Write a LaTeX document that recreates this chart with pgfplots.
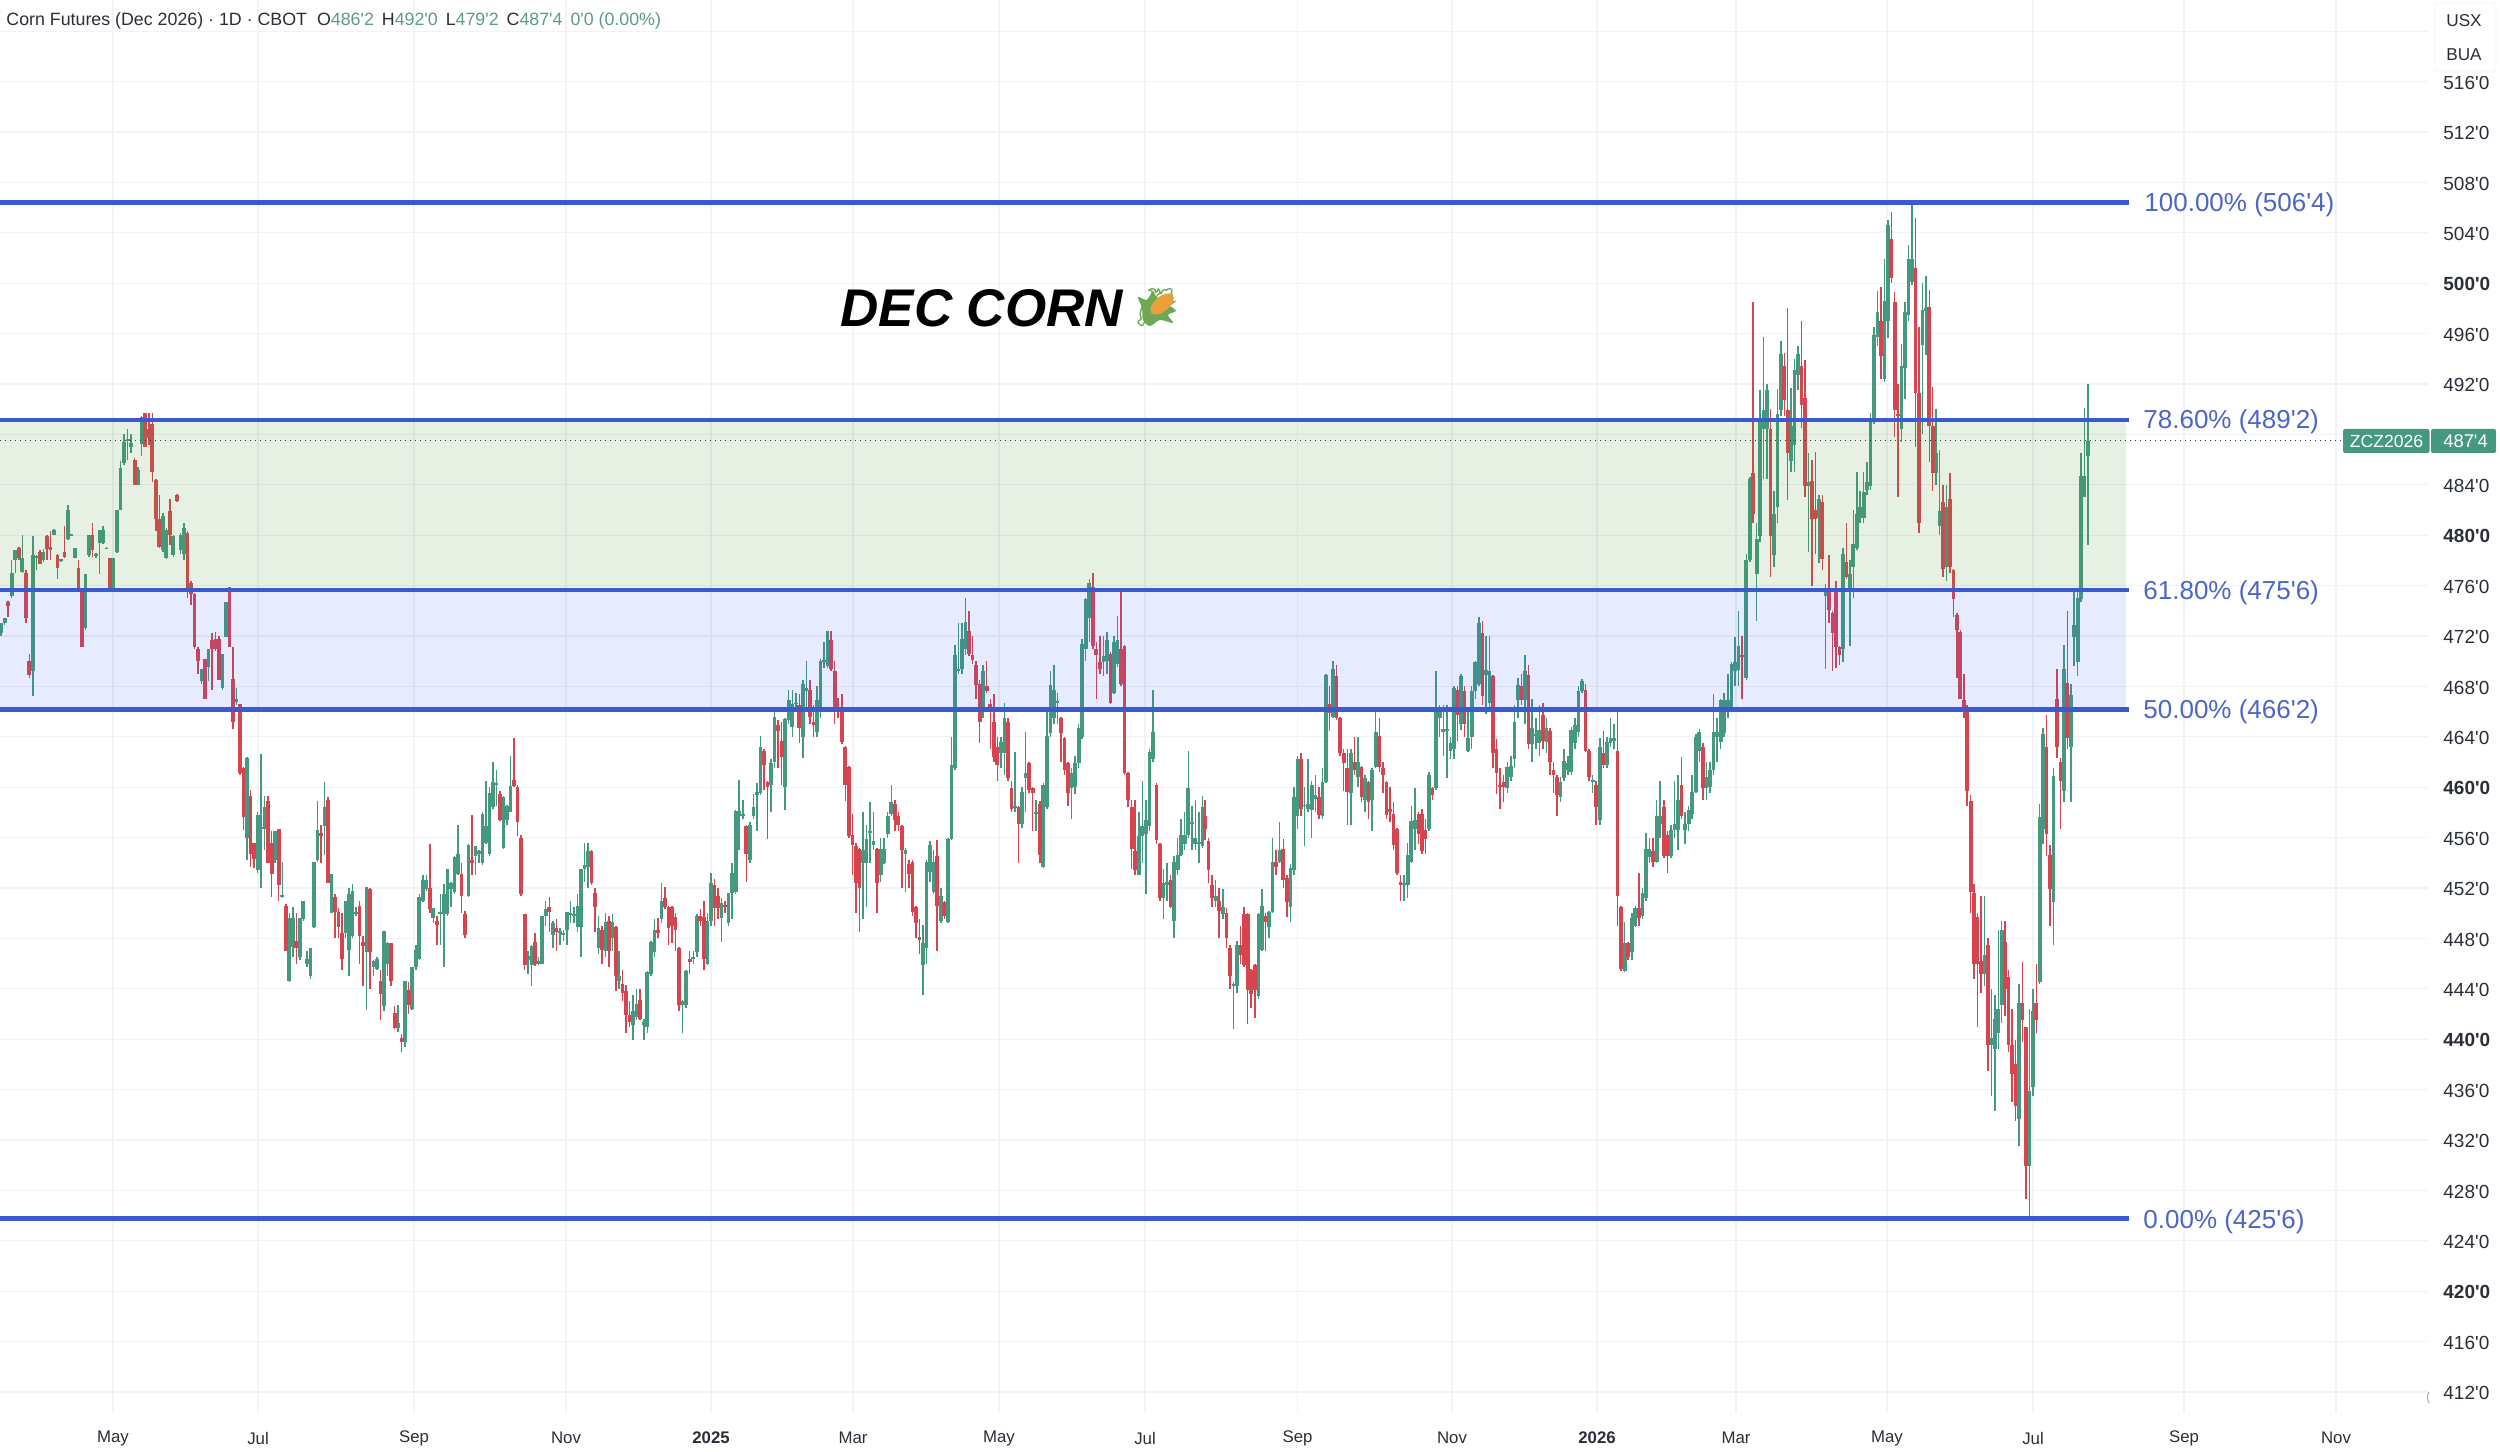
\documentclass[border=0pt]{standalone}
\usepackage{fontspec}
\setmainfont{Liberation Sans}[Ligatures=TeXOff]
\newfontfamily\emojifont{Noto Emoji}
\usepackage{pgfplots}
\usepackage{pgfplotstable}
\pgfplotsset{compat=1.18}
\definecolor{cup}{HTML}{459980}
\definecolor{cdn}{HTML}{D6454F}
\definecolor{fib}{HTML}{3A5BD0}
\definecolor{fibt}{HTML}{4B66C5}
\definecolor{gridc}{HTML}{F2F3F5}
\definecolor{txt}{HTML}{2A2E39}
\definecolor{hdr}{HTML}{5A9C86}
\definecolor{husk}{HTML}{6FA854}
\definecolor{cob}{HTML}{E9A23B}

\pgfplotstableread{
o h l c
472.2 473 472 473
473 473.4 472.9 473.4
474.7 474.8 473.5 474.4
475.2 478 475 477
478 478.8 477 478.8
479 479.1 478 478.2
477.1 480 477 478.2
477 477.2 473 473.4
470 470.6 468.7 468.9
469.2 479.9 467.2 478.4
478.2 478.4 477.2 478.3
478.7 478.8 477.7 477.7
478 478.9 477.9 478.7
479.9 480 478 478.9
479.1 480.3 478 478.8
480 480.5 480 480.4
478.4 478.5 476.5 477.4
478 478.1 477.9 478.05
478.7 480.7 478.2 478.3
479.7 482.4 479.6 482
480 480.1 479.9 480.1
478.2 479 478.2 479
477.4 478 475.6 475.8
475.6 475.8 471.1 471.1
472.6 476.9 472.5 476.9
478.4 480 478.3 480
480 481 478.3 478.8
478.4 478.6 478.2 478.5
479.4 480.4 476.9 480.4
479.4 480.7 479.3 480.4
478.9 479.1 478.9 479
478.2 478.2 475.6 475.8
475.8 478.2 475.7 478.2
478.7 482 478.6 482
482 485.9 482 485.3
485.7 488 485.6 487.4
487.5 488.4 486 487.6
487 488 486.5 487.3
486 486.1 484 484
484 485.4 484 485.2
487.2 489.5 486.3 489.4
489.7 489.7 487 487
488.4 489.7 487.2 487.7
488.8 489.7 484.2 485
484.4 484.5 480.3 481.3
481.3 483.2 479 479.1
478.8 481.8 478.7 481.5
478.2 480.6 478.1 480.4
481.9 482.9 479.2 480
478.4 480 478.3 479.9
483.2 483.3 482.6 482.7
478.8 480.2 478.5 480
478.5 481 478 480.6
480.2 480.3 475 475.6
476.2 476.4 474.5 475.3
475.3 475.4 471 471.1
471 471.1 469 470
468.4 469.3 468.2 469.4
470.2 470.2 467 467
469.5 471 468.4 471
471.7 472.2 467.7 471
471.8 472.3 470.8 471
471.8 472 468.5 468.5
467.9 470.6 467.7 470.6
471.9 474.7 471.9 474.7
475.9 475.9 471.1 471.1
468.6 471.1 464.6 465.2
466.8 467.9 466.5 467
466.6 466.6 461 461.1
461.5 461.6 456.6 457.6
456 462.4 454.2 462.3
459.3 459.8 453.7 454.7
455.6 455.6 453.6 454.3
453.4 458 453.2 457.8
456.7 462.6 452 456.8
456.7 459.3 455 458.4
458.9 459.3 454 454
455.6 456.5 451.3 453.1
454.2 456.5 454 456.5
456.7 456.7 451 452.2
451.3 454.1 451.2 451.4
450.6 450.7 447 447
444.6 450 444.5 449.6
447.3 450.5 446.5 449.6
447.8 450 446 447.2
446.5 449.6 446.3 449.6
449.5 451 449.4 451
446 447 445.7 446.4
445 447.2 444.8 447.2
448.9 454.1 448.8 454.1
454.2 458.9 454.1 456.6
456.4 457 454 456.1
456.9 460.4 454.6 458.4
459 459.2 452.4 452.4
450 453 450 453.1
451.3 451.5 448 450.1
450.1 450.4 448 448.9
448.4 450 445.5 446.4
448.4 451 448 451
447.1 452 445 451.5
448.2 452.3 448 451.8
450 450.5 449.8 450.05
450.6 451 446 448.2
447.7 448.2 444.2 447.4
446.9 452.1 442.3 452.1
451.9 452 444 446.9
445.7 446.3 445 446.2
445.6 446.5 445.5 446.4
444.6 445.5 441.5 443.6
442.6 448.6 442.2 448.6
446 447.7 445 447.6
447.6 447.6 444.2 444.6
442.1 442.6 440.8 440.9
440.9 442.7 440.6 441.3
440.1 440.4 439 439.8
439.8 444.6 439.4 444.6
443.9 444.5 442 442.7
442.4 445.7 442.3 445.7
445.7 447.5 445.5 447.1
446.4 451.5 446.3 451.3
451 453 450.9 452.6
451.9 453 451.8 452.6
452 455.5 450 450.3
449.6 450.4 449.2 450.4
449.4 449.8 447.5 449.1
449.9 451.5 447.5 450.1
449.9 452.3 445.7 451.5
449.9 453.5 449.8 453.5
451.9 452.5 450.5 452.4
451.7 454.5 451.5 454.5
453.1 457 453 454.7
453.1 454 450 451.4
449.9 450.2 448 448.3
451.4 455.5 451.3 455.4
454.2 457.8 453 454
454.5 455.3 453 455.3
454.7 455 454 454.9
454 458 453.8 457.9
455.6 460.5 455.5 456.9
454.7 460 454.5 459.5
458.4 462 458.3 460.4
460.2 461.4 458.5 460.3
459.5 459.7 457.3 457.4
455.2 459.3 455.1 459.2
457.4 458.6 457 458.5
458 462.5 458 460.1
460.6 463.9 460 460.1
460 460.2 456.1 457.2
456 456.2 451.4 451.5
449.9 449.9 445.5 445.9
446.3 447 445.2 446.6
445.9 447.5 444.2 447.4
447.7 448.4 445.8 446
446 446.5 445.9 446.2
446 449.8 446 449.8
449.8 451 449 450.3
450.5 451.3 448.5 450.1
448.3 449.4 447.2 449.2
448.8 449.5 447 448.5
448.5 448.8 447.5 448.55
448.3 448.7 447.8 448.4
448.7 450.1 447.5 450.1
449.9 451 449.2 450
449.8 450.5 449.2 449.9
448.9 451.5 448.5 450.6
448.9 453.5 446.5 453.5
453.5 455.6 452.5 453.8
453.7 455.6 452 454.9
454.9 455 452.2 452.4
451.6 452 448.5 450.5
447.2 449.8 446.8 448.8
448.7 449 446 447.1
447 450 446.5 449.3
449.4 449.8 445.7 447
448 449.9 447 449.3
448.9 449 443.8 445
}\tA

\pgfplotstableread{
o h l c
444.6 447 444 445
444.4 445.5 443 443.7
443.8 444.3 440.5 441.9
441.9 443 441 441.4
441.1 443.5 439.9 442.2
441.8 444 441.5 442.8
443.1 444 441.5 441.6
441.1 441.6 439.9 441.4
441 445.4 440.5 445.3
445.2 447.8 445 447.7
446.9 449.5 446.5 448.7
448.7 449.6 448 448.4
449.5 452.4 449.2 451
451.2 452.1 450.3 450.5
450.5 450.6 447.5 448.8
450.5 450.6 447.6 449
449.7 450 447 448.7
447.2 447.3 442.2 442.7
442.7 443.1 440.5 443
442.7 445.5 442.5 445.4
446.4 447 445.2 446.1
446.4 447 446 446.5
446.9 449.9 446.5 449.8
449.8 450.3 449 449.4
449.7 451 445.5 446.4
446 450 445.9 449.4
449.4 453.2 449 452.4
452.2 452.7 449 450.4
451.4 452 449.5 450.4
449.6 451.2 447.7 450.8
450.6 451 450 450.5
449.2 451.6 449 451.6
451.6 454 449.5 453.2
451.7 458.2 451.5 458.1
457.7 460.6 455 458.1
457.7 459 457.5 457.9
456.9 457 452.5 454.7
454.2 457.2 454 457
457.7 459.5 457.5 458.4
459.4 460.3 456.5 459.6
459.5 464.1 459.4 463.2
462.9 463 459.8 461.8
460.4 460.5 455.9 460
460.2 462.2 458 461.9
462 466 461.5 465.6
464.9 465.3 461.5 464.5
463.7 465.2 460.2 462.4
460 465.5 458.2 465.4
465.3 467.7 465 466.9
464.8 467.7 464 466.6
466.6 467.5 466 466.7
466.5 467.4 463.5 464.7
464 468.5 462.3 468.2
467.6 470 466 467.9
467.7 468.5 465 465.6
465.2 466.5 464 464.9
464.4 468 464 466.9
466 470.2 465.5 470
470 471.5 469.5 470.1
469.6 472.4 469.5 472.4
471.7 472.4 469.2 469.4
469.2 470 465 466.4
466.4 467.1 465.5 466
466.4 467.4 463.4 463.6
463.2 463.3 458.9 460.2
461.6 461.7 456 456.1
456.2 457.9 453 455.4
455.3 455.6 450 452.4
455.1 455.2 448.5 452
454 458 449.5 455
454 457 450.5 455.9
456.4 458.8 454 456.5
455.4 458 455 455.7
455.1 455.2 450 452.4
453 456 452.5 455.1
454 456 453.9 455.1
456.3 458 456 457.7
457.9 460.2 457.7 458.8
458.7 459 456.5 457.4
457.7 458 456.5 457
456.9 457 452 455
454.7 455.2 451.7 455
453.9 454.2 452 453.1
454.1 454.2 449.8 450.1
450.5 450.6 448 449.2
448.1 449.5 446.8 447.9
445.9 449.1 443.5 447.6
447.2 454.2 446 454.1
453.3 455.7 452.5 455.4
451.7 455 451.5 454.1
454.5 455.8 447 450.6
449.4 452 449.2 451.4
450.9 451 449.5 449.8
449.3 456 449.2 455.9
455.9 464 455.8 461.8
461.5 471.3 461.4 470.5
469.2 473 469 469.4
469.4 473 469 471.8
471 475 470.5 473.1
472.4 474 470.4 470.6
470.5 472 469.8 470.1
469.7 470 467 468.1
468.2 468.5 463.5 465.2
466.1 469.7 465.5 469.2
468 470 467.5 467.6
466.6 467 463 466.3
465.2 467.4 462 462.4
463.2 464 460.5 461.8
462.7 464 461.5 463.6
462.7 466.7 461 465.5
465.2 465.5 460.5 460.7
459.9 460.5 458 458.3
458.4 462.8 458 458.5
458.4 458.5 454 457.1
457.1 460 456.8 459.6
460.7 464.4 458 461.1
461.9 462 459.5 459.8
459.9 460 456.5 459.5
457.9 459 456.5 458
458.7 458.9 454 454.6
453.7 460.3 453.6 460.2
458.4 466 458.3 464.1
464.3 469.2 464 468.1
465.5 469.7 465 467.7
466.7 467.5 465 466.8
465.5 465.6 462 464.3
463.9 464 461 461.4
461.9 462 458.5 459.5
459.9 461.5 457.5 461.1
460 462.5 459.5 461.9
461.9 465 461.5 464.7
464 471.8 463.8 471.4
471 475 470 474.9
473.4 476.5 471.5 476.2
475.9 477 471 471.2
471 471.5 467 470.5
469.9 472 469 469.4
469.9 472 468.8 470.4
470 472.3 469 471.7
470.6 470.7 466.6 466.7
467.5 472 467.4 471.5
469.8 473.6 469.5 471.7
471 475.5 468 468.2
471.2 471.3 461 461.1
461.1 461.2 458.4 459
458.4 459 453.5 455.1
454.9 459 453 453.4
453 458 453 456.1
456.1 460.5 454 456.9
456.3 459 451.5 457.4
456.9 463 456.5 462.8
462.2 467.7 462 464.4
460.2 460.3 455.5 455.8
455.5 455.6 451 451.2
451.2 453.5 449.5 452.4
452.2 454 451 452.5
452.6 453 450.4 450.5
449.4 454.5 448 454.1
453.4 456 453 454.6
454.6 457.5 454.5 456.2
455.5 458 455 456.2
456.2 462.9 456 459.9
457.1 458.5 455 457.2
455.5 459 455 456
455.5 458 454 455.6
455.3 459.3 455.2 458.4
}\tB

\pgfplotstableread{
o h l c
457.7 459 455.8 456.7
455.7 456 452.4 453.4
452.2 453 450.5 451.2
451 452.6 450.5 451.4
451 452 448 450.2
449.9 451.9 449.5 450.5
450 450.4 447.2 448
447.2 447.5 444 445
444.2 444.5 440.8 444.4
444.2 447.8 443.7 447.5
447.5 449 446 446.7
449.9 450.5 445.7 445.9
449.9 450 441.2 443.9
445.5 445.6 442.5 443.6
445.9 446 441.7 443.9
443.4 450 443.2 449.9
447.1 451.9 447 450.6
449.8 450 447 449.3
448.9 450.2 448 450.1
450.1 456 450 454.1
454.1 455 453 453.7
454.1 457.2 454 455
455.1 455.9 452 452.6
452.8 453 449.7 450.9
450.5 453.9 449.3 453.6
453.4 460 453 459.2
457.7 462.5 456.7 462.2
462.2 462.7 457.7 458.3
458.5 460 455.3 458.6
458.3 462.2 458 458.7
458.2 460.5 456 460.2
459.1 461 458 459.4
459.2 460 457.5 457.8
457.7 461.5 457.5 460.4
460.4 469 460.3 468.9
466.6 468 464.5 465.9
465.6 470 465.5 469.4
468.8 469.7 465.3 465.5
465.5 465.6 462.5 462.7
462.7 463 459.7 461.9
461.5 463 457 459.6
459.5 463 457 462.7
462 464 461 461.4
460.8 464 460 462
461.6 461.7 458.8 459.2
459 461 458 460.7
460.4 460.5 457.5 458.8
459 461.5 456.5 461.4
461.6 466 461.5 464.4
464.1 465.5 461.2 461.6
461.5 462 459.5 461
460.4 460.5 457.5 457.8
458.3 460 457.2 458
457.9 458.8 455 455.4
456.7 456.8 453 453.2
452.5 453 451 452.2
452.3 453 451 452.4
452.2 455.6 451.2 454.6
454.1 458.5 454 457.3
456.7 459.9 455 457.4
457.9 458 455.5 456.3
457.9 458.3 454.7 454.9
456.6 457.5 454.7 455.9
456.7 461.2 456.5 461
459.9 460 459 459.4
459.9 469.2 459.8 466.1
465.5 466.5 464 466.3
464.4 466.5 462.5 464.6
464.5 466.5 460.7 464.55
462.9 464 462.2 463.5
463 468 462.2 467.9
467.7 468 463.7 465.7
465 469 464.5 468.8
467.6 468 464 465
462.9 466 462.8 463.9
464 468 463 467.6
467.6 470 467 469.9
468.2 473.5 468 473
472.2 473.2 466.5 467.2
468.9 472 465.8 469.3
466.7 472 466 469.2
468.8 468.9 461.5 462.7
463 463.8 459.5 461.1
460.2 461.5 458.3 460
460.4 461 458.8 460
459.9 462 459.5 461.6
460.8 462.5 460.5 461.7
462.2 466.5 461.5 465.2
466.9 468.7 465.5 468.1
468 469 466.5 466.9
466.9 470.5 465 469.2
468.9 469.7 463 463.4
463.4 467 462 464.7
464.1 465.5 463 464.2
463.5 466.5 462.5 464.5
465.7 466.7 463 463.7
463.6 465.5 462.7 464.7
464.5 464.7 461 462
461.4 462 459.5 461
460.8 461 457.7 459.4
459.2 460.8 458.8 460.4
460.7 463 460.5 462.1
461.4 462.5 461 461.9
461.2 464.8 461 464.5
463.5 465.5 463 464.9
464.4 468 464 467.6
467.6 468.6 467.5 468.4
467.7 468.2 462.8 462.9
462.9 463 460.5 460.8
460.4 461 459.5 460.6
460.2 460.5 457 458.4
457.4 463.9 457 463.2
462.7 464.5 461.5 461.8
461.8 464 461.5 463.6
463.5 465.5 463.2 463.9
463.7 465 463 463.9
462.9 466.1 449 451.4
450.5 450.6 445.4 445.6
445.4 449.3 445.3 447.6
447.6 447.7 446.3 446.5
446.9 450 446.3 449.6
449 450.6 448.9 450.4
450.4 453.2 449 449.6
449.8 452 449.5 451.6
451.2 456.4 451 455.1
454.5 456 454 455.1
454.9 456 453.7 454.1
454.1 459 454 457.7
457.1 460.5 456 457.7
458.4 459 454.4 454.5
456.2 456.5 453.2 454.5
454.5 457 454.4 456.6
456.6 460.5 456 457.1
456.6 461 455 459
460.2 462.4 457.5 457.7
456.6 458 455.5 457.1
457.1 458.5 456.5 458.2
457.9 461 457.5 459.6
459.6 464.2 459.5 464
462.9 464.6 462 464.4
463.2 463.5 459 459.9
459.9 462 459 460.8
460 462 459.5 461.4
461.4 467.4 461 464.4
464 465.5 462 464.4
463.6 467 463 466.9
464.3 467.5 464 466.9
466.1 469 465.5 466.9
466.1 469.9 466 469.8
469.2 471.9 468 469.9
469.3 474 468 471.2
470.5 472 467 470.3
}\tC

\pgfplotstableread{
o h l c
468.7 478.5 468.5 478
478 484.6 477.9 484.5
484.9 498.5 481 481.7
476.9 481 473.2 479.7
479.9 491.5 479.5 489
488.4 495.7 484.5 489.9
488.4 492 484.5 491.5
488.4 490 476.7 479.9
478.4 483.5 477.5 481.7
482.2 491.6 481 489.6
489.9 495.4 489.5 494.4
493.4 494.5 489.5 490.7
489.9 498 482.8 486.5
485.9 491.7 485 488.7
487.2 494 485 493.1
492.7 495 491.5 494.4
493.4 497 488.5 490.3
490.9 493.9 483 483.9
483.9 486.5 478.7 484.2
484.3 486 476 481.3
482 486.6 478.5 481.3
481.4 483.2 477.8 482.9
482.6 483.2 477.2 478.1
475.2 476.1 469.4 475.7
475.5 478.4 473 474.1
473.8 474 469.2 472.2
475.7 476.4 469.5 471.1
471.1 471.2 469.7 470.5
471 479 469.9 478.5
477.9 481 476.5 476.7
475.7 478 471.2 476.9
477.5 482 475 479.3
479 485 478.8 481.7
481.4 483.5 481 482.2
481.4 485 481 483.4
483.6 485.8 483.2 484.2
483.9 489.7 483.6 489.3
489.3 496.5 488.8 495.9
495.7 499.4 495 497.7
497 499.7 492.4 494.2
492.4 501.9 492.2 498.6
497 505 495.7 504.6
503.5 505.7 500 500.4
498.5 499.3 487.8 489.9
489.6 492 483 489.5
488.4 495.2 487.4 493.4
493.3 498.5 490.8 497.7
497.5 503 497 501.9
500.1 506.5 499.9 501.9
501.2 505.2 487 491.3
491.3 496.5 480.2 481
495.1 500 488 497.9
497.8 500.6 494.3 498
498.1 499.5 485.8 488.7
488.7 491.8 483.5 484.9
484.9 490 484 486.5
480.7 486.8 480 481.9
482.6 484 476.7 477.3
477.5 484 476.4 482.2
482.9 484.9 477 477.5
477.2 477.3 473.5 474.9
473.7 473.8 468.7 472.5
472.3 472.5 467 467
466.9 469 465.5 466.4
466.1 466.5 458.5 459.7
458.9 459.4 450 451.7
451.6 452.3 444.8 446
449.7 450 441 446
446.2 451.4 443.7 445.2
445.2 451.4 444.2 446.7
447.5 448 437.5 439.5
439.5 444 435.5 440.1
439.2 443.5 434.3 441.6
440.5 448.7 439.2 442.4
442.7 449.4 441.3 448.7
447.7 449.4 441.8 444
444.9 445.5 439 439.5
439.5 442.4 435 437.2
438 439.9 433.5 434.7
433.7 444.4 431.5 442.9
442.9 446.1 439.8 441.5
441 441 427.3 429.9
429.9 442.4 425.75 435.9
436.2 444 435.5 442.2
442.9 446 440.5 441.5
444.5 458.7 444.4 457.6
456.7 464.7 455.5 464.2
463.2 465.7 454.5 456.3
454.6 455.4 449 451.9
450.9 461.5 447.5 460.9
467 469.4 462.3 463.2
462 462.3 456.7 460.5
459.7 471.3 458.8 469.4
468.3 474 463 463.9
463.2 468.2 458.8 467.3
471.9 475.5 469.6 472.9
469.9 475.8 468.8 475
474.9 486.5 474.7 484.7
483 490.1 483 484.7
486.25 492 479.25 487.5
}\tD

\newcommand\candles[3]{%
  \pgfplotstablegetrowsof{#1}%
  \pgfmathsetmacro\cstep{(#3-#2)/(\pgfplotsretval-1)}%
  \addplot[draw=none,mark=none,forget plot,
    error bars/.cd,y dir=both,y explicit,error mark=none,
    error bar style={line width=0.75pt,color=cup}]
    table[x expr={#2+\coordindex*\cstep},
      y expr={\thisrow{c}>=\thisrow{o} ? (\thisrow{h}+\thisrow{l})/2 : nan},
      y error expr={(\thisrow{h}-\thisrow{l})/2}] {#1};
  \addplot[draw=none,mark=none,forget plot,
    error bars/.cd,y dir=both,y explicit,error mark=none,
    error bar style={line width=0.75pt,color=cdn}]
    table[x expr={#2+\coordindex*\cstep},
      y expr={\thisrow{c}<\thisrow{o} ? (\thisrow{h}+\thisrow{l})/2 : nan},
      y error expr={(\thisrow{h}-\thisrow{l})/2}] {#1};
  \addplot[draw=none,mark=none,forget plot,
    error bars/.cd,y dir=both,y explicit,error mark=none,
    error bar style={line width=1.85pt,color=cup}]
    table[x expr={#2+\coordindex*\cstep},
      y expr={\thisrow{c}>=\thisrow{o} ? (\thisrow{o}+\thisrow{c})/2 : nan},
      y error expr={max(abs(\thisrow{o}-\thisrow{c})/2,0.07)}] {#1};
  \addplot[draw=none,mark=none,forget plot,
    error bars/.cd,y dir=both,y explicit,error mark=none,
    error bar style={line width=1.85pt,color=cdn}]
    table[x expr={#2+\coordindex*\cstep},
      y expr={\thisrow{c}<\thisrow{o} ? (\thisrow{o}+\thisrow{c})/2 : nan},
      y error expr={max(abs(\thisrow{o}-\thisrow{c})/2,0.07)}] {#1};
}

\begin{document}
\begin{tikzpicture}
\useasboundingbox (0,0) rectangle (1250pt,725.5pt);
\begin{axis}[
  at={(0pt,19pt)},anchor=south west,scale only axis,
  width=1214pt,height=706.5pt,
  xmin=0,xmax=2428,ymin=410.33,ymax=522.48,
  clip=false,
  axis line style={draw=none},
  major tick length=0pt,
  tick style={draw=none},
  grid=major,
  major grid style={draw=gridc,line width=0.55pt},
  ytick={412,416,420,424,428,432,436,440,444,448,452,456,460,464,468,472,476,480,484,488,492,496,500,504,508,512,516,520},
  yticklabels={412'0,416'0,\textbf{420'0},424'0,428'0,432'0,436'0,\textbf{440'0},444'0,448'0,452'0,456'0,\textbf{460'0},464'0,468'0,472'0,476'0,\textbf{480'0},484'0,{},492'0,496'0,\textbf{500'0},504'0,508'0,512'0,516'0,{}},
  ytick pos=right,
  yticklabel pos=right,
  yticklabel style={anchor=west,inner sep=0pt,xshift=7.5pt,yshift=-0.6pt,font=\fontsize{9.5}{11}\selectfont,text=txt},
  xtick={113,258,414,566,711,853,999,1145,1297.5,1452,1597,1736,1887,2033,2184,2336},
  xticklabels={May,Jul,Sep,Nov,\textbf{2025},Mar,May,Jul,Sep,Nov,\textbf{2026},Mar,May,Jul,Sep,Nov},
  xticklabel style={anchor=center,inner sep=0pt,yshift=-12.6pt,font=\fontsize{8.4}{10}\selectfont,text=txt},
]
\candles{\tA}{1.2}{616}
\candles{\tB}{619}{1202.4}
\candles{\tC}{1205}{1742}
\candles{\tD}{1746.3}{2088}
\addplot[draw=none,fill={rgb,255:red,76;green,150;blue,60},fill opacity=0.14,forget plot]
  coordinates {(0,475.65)(2126,475.65)(2126,489.15)(0,489.15)} -- cycle;
\addplot[draw=none,fill={rgb,255:red,50;green,90;blue,240},fill opacity=0.12,forget plot]
  coordinates {(0,466.15)(2126,466.15)(2126,475.65)(0,475.65)} -- cycle;
\addplot[color=black!55!cup,line width=0.5pt,dash pattern=on 0.6pt off 1.9pt,forget plot]
  coordinates {(0,487.5)(2343,487.5)};
\addplot[color=fib,line width=2.3pt,forget plot] coordinates {(0,506.43)(2129,506.43)};
\addplot[color=fib,line width=2.3pt,forget plot] coordinates {(0,489.15)(2129,489.15)};
\addplot[color=fib,line width=2.3pt,forget plot] coordinates {(0,475.65)(2129,475.65)};
\addplot[color=fib,line width=2.3pt,forget plot] coordinates {(0,466.15)(2129,466.15)};
\addplot[color=fib,line width=2.3pt,forget plot] coordinates {(0,425.75)(2129,425.75)};
\node[anchor=west,inner sep=0pt,text=fibt,font=\fontsize{13}{15}\selectfont] at (axis cs:2144,506.2) {100.00\% (506'4)};
\node[anchor=west,inner sep=0pt,text=fibt,font=\fontsize{13}{15}\selectfont] at (axis cs:2143,489.0) {78.60\% (489'2)};
\node[anchor=west,inner sep=0pt,text=fibt,font=\fontsize{13}{15}\selectfont] at (axis cs:2143,475.45) {61.80\% (475'6)};
\node[anchor=west,inner sep=0pt,text=fibt,font=\fontsize{13}{15}\selectfont] at (axis cs:2143,465.95) {50.00\% (466'2)};
\node[anchor=west,inner sep=0pt,text=fibt,font=\fontsize{13}{15}\selectfont] at (axis cs:2143,425.5) {0.00\% (425'6)};
\end{axis}
\begin{scope}[shift={(0pt,725.5pt)},x=0.5pt,y=-0.5pt]
  % header
  \node[anchor=west,inner sep=0pt,text=txt,font=\fontsize{8.9}{10}\selectfont] at (6,20.5)
    {Corn Futures (Dec 2026) · 1D · CBOT\hspace{5pt}O\textcolor{hdr}{486'2}\hspace{4pt}H\textcolor{hdr}{492'0}\hspace{4pt}L\textcolor{hdr}{479'2}\hspace{4pt}C\textcolor{hdr}{487'4}\hspace{4pt}\textcolor{hdr}{0'0 (0.00\%)}};
  % title
  \node[anchor=base west,inner sep=0pt,text=black,font=\fontsize{26.5}{30}\selectfont\bfseries\itshape] at (840,327) {DEC CORN};
  \fill[husk] plot[smooth cycle] coordinates {(1138,297)(1147,300)(1153,291)(1158,300)(1172,308)(1176,311)(1168,315)(1173,323)(1160,320)(1150,326)(1143,320)(1142,308)};
  \node[inner sep=0pt,text=husk,font=\emojifont\fontsize{19}{22}\selectfont] at (1157,308) {🌽};
  \fill[cob,rotate around={40:(1162,304)}] (1162,304) ellipse (14 and 7.5);
  % price boxes
  \fill[white] (2435,3) rectangle (2496,76.5);
  \draw[gridc,line width=0.4pt,rounded corners=1.5pt] (2435,3) rectangle (2496,72);
  \node[text=txt,inner sep=0pt,font=\fontsize{8.6}{10}\selectfont] at (2464,21) {USX};
  \node[text=txt,inner sep=0pt,font=\fontsize{8.6}{10}\selectfont] at (2464,55) {BUA};
  \fill[cup,rounded corners=1pt] (2343,429) rectangle (2429.5,453);
  \fill[cup,rounded corners=1pt] (2431,429) rectangle (2496,453);
  \node[text=white,inner sep=0pt,font=\fontsize{8.8}{10}\selectfont] at (2386.5,441) {ZCZ2026};
  \node[text=white,inner sep=0pt,font=\fontsize{9.2}{11}\selectfont] at (2465.5,441) {487'4};
  \draw[gray!70,line width=0.5pt] (2429,1392) .. controls (2427,1396) and (2427,1399) .. (2429,1403);
\end{scope}
\end{tikzpicture}
\end{document}
